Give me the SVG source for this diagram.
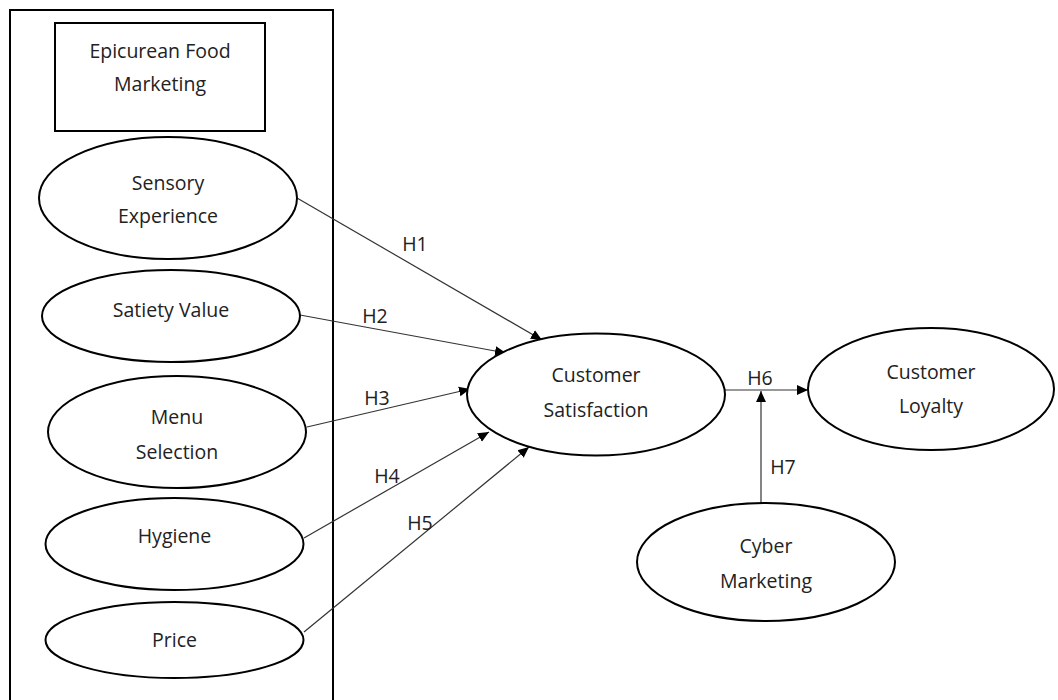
<svg xmlns="http://www.w3.org/2000/svg" width="1058" height="700" viewBox="0 0 1058 700">
<style>
.n{fill:#fff;stroke:#000;stroke-width:2}
.t{font-family:"Open Sans","Noto Sans",sans-serif;font-size:19.5px;fill:#222;text-anchor:middle}
.c{stroke:#333;stroke-width:1.2;fill:none;marker-end:url(#ah)}
</style>
<defs>
<marker id="ah" viewBox="0 0 10 10" refX="10" refY="5" markerWidth="11" markerHeight="11" markerUnits="userSpaceOnUse" orient="auto">
<path d="M0,0.5 L10,5 L0,9.5 Z" fill="#000"/>
</marker>
</defs>
<rect width="1058" height="700" fill="#fff"/>
<g id="frame"><rect x="10" y="10" width="323" height="700" fill="none" stroke="#000" stroke-width="2"/></g>
<g id="epicurean"><rect class="n" x="55" y="23" width="210" height="108"/><text class="t" x="160" y="58">Epicurean Food</text><text class="t" x="160" y="91">Marketing</text></g>
<g id="connectors">
<line class="c" x1="297" y1="198" x2="542" y2="340"/>
<line class="c" x1="300" y1="315" x2="506" y2="353"/>
<line class="c" x1="307" y1="427" x2="470" y2="389"/>
<line class="c" x1="304" y1="538" x2="489" y2="432"/>
<line class="c" x1="304" y1="632" x2="529" y2="447"/>
<line class="c" x1="725" y1="390" x2="808" y2="390"/>
<line class="c" x1="761" y1="503" x2="761" y2="391"/>
<text class="t" x="415" y="251">H1</text>
<text class="t" x="375" y="323">H2</text>
<text class="t" x="377" y="405">H3</text>
<text class="t" x="387" y="483">H4</text>
<text class="t" x="420" y="530">H5</text>
<text class="t" x="760" y="385">H6</text>
<text class="t" x="783" y="474">H7</text>
</g>
<g id="sensory"><ellipse class="n" cx="168" cy="198" rx="129" ry="61"/><text class="t" x="168" y="190">Sensory</text><text class="t" x="168" y="223">Experience</text></g>
<g id="satiety"><ellipse class="n" cx="171" cy="316" rx="129" ry="46"/><text class="t" x="171" y="317">Satiety Value</text></g>
<g id="menu"><ellipse class="n" cx="177" cy="432" rx="129" ry="56"/><text class="t" x="177" y="424">Menu</text><text class="t" x="177" y="459">Selection</text></g>
<g id="hygiene"><ellipse class="n" cx="174.5" cy="544" rx="129" ry="46"/><text class="t" x="174.5" y="543">Hygiene</text></g>
<g id="price"><ellipse class="n" cx="174.5" cy="640" rx="129" ry="38"/><text class="t" x="174.5" y="647">Price</text></g>
<g id="satisfaction"><ellipse class="n" cx="596" cy="394.5" rx="129" ry="61"/><text class="t" x="596" y="382">Customer</text><text class="t" x="596" y="417">Satisfaction</text></g>
<g id="loyalty"><ellipse class="n" cx="931" cy="389" rx="123" ry="61"/><text class="t" x="931" y="379">Customer</text><text class="t" x="931" y="413">Loyalty</text></g>
<g id="cyber"><ellipse class="n" cx="766" cy="562" rx="129" ry="59"/><text class="t" x="766" y="553">Cyber</text><text class="t" x="766" y="588">Marketing</text></g>
</svg>
